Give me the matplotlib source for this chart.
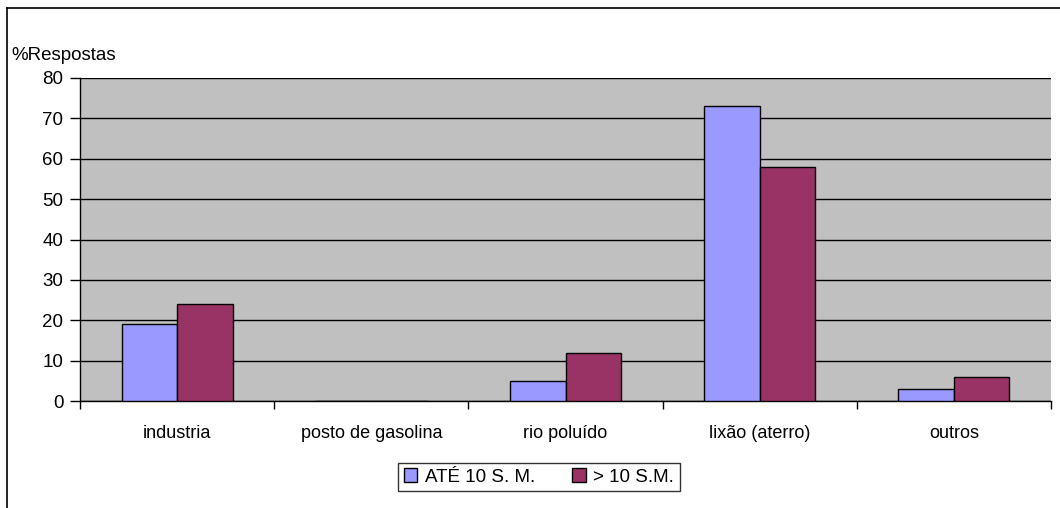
import numpy as np
import matplotlib
matplotlib.use("Agg")
import matplotlib.pyplot as plt
from matplotlib.lines import Line2D

plt.rcParams['font.family'] = ['Liberation Sans', 'DejaVu Sans']

categories = ['industria', 'posto de gasolina', 'rio poluído', 'lixão (aterro)', 'outros']
ate_10 = [19, 0, 5, 73, 3]
mais_10 = [24, 0, 12, 58, 6]
series_names = ['ATÉ 10 S. M.', '> 10 S.M.']
y_ticks = [0, 10, 20, 30, 40, 50, 60, 70, 80]

W, H = 1060, 508
fig = plt.figure(figsize=(W / 100, H / 100), dpi=100)
ax = fig.add_axes([80 / W, 1 - 401 / H, 971 / W, 323 / H])

x = np.arange(len(categories))
bw = 0.286
ax.bar(x - bw / 2, ate_10, bw, color='#9999FF', edgecolor='black', linewidth=1,
       label=series_names[0], zorder=3)
ax.bar(x + bw / 2, mais_10, bw, color='#993366', edgecolor='black', linewidth=1,
       label=series_names[1], zorder=3)

ax.set_facecolor('#C0C0C0')
ax.set_xlim(-0.5, len(categories) - 0.5)
ax.set_ylim(0, 80)
ax.set_yticks(y_ticks)
ax.yaxis.grid(True, color='black', linewidth=1, zorder=1)
ax.set_axisbelow(True)

# category ticks between groups, labels in the middle
ax.set_xticks(np.arange(len(categories) + 1) - 0.5)
ax.set_xticklabels([])
ax.set_xticks(x, minor=True)
ax.set_xticklabels(categories, minor=True, fontsize=13)
ax.tick_params(axis='x', which='minor', length=0, pad=17)
ax.tick_params(axis='x', which='major', length=6, width=1, direction='out')
ax.tick_params(axis='y', length=7, width=1, direction='out', pad=5, labelsize=13.5)

for s in ['top', 'right']:
    ax.spines[s].set_visible(False)
for s in ['left', 'bottom']:
    ax.spines[s].set_color('black')
    ax.spines[s].set_linewidth(1)

fig.text(11 / W, 1 - 56 / H, '%Respostas', fontsize=13.5, va='center', ha='left')

# outer chart frame (left and top)
fig.add_artist(Line2D([7 / W, 7 / W], [0, 1 - 8 / H], color='black', linewidth=1.2,
                      transform=fig.transFigure))
fig.add_artist(Line2D([7 / W, 1], [1 - 8 / H, 1 - 8 / H], color='black', linewidth=1.2,
                      transform=fig.transFigure))

leg = fig.legend(loc='center', bbox_to_anchor=(539 / W, 1 - 477 / H), ncol=2,
                 fontsize=13.5, frameon=True, fancybox=False, edgecolor='black',
                 handlelength=0.7, handleheight=0.7, handletextpad=0.4,
                 columnspacing=2.0, borderpad=0.3, borderaxespad=0)
leg.get_frame().set_linewidth(1)

fig.savefig('out.png', dpi=100, facecolor='white')
